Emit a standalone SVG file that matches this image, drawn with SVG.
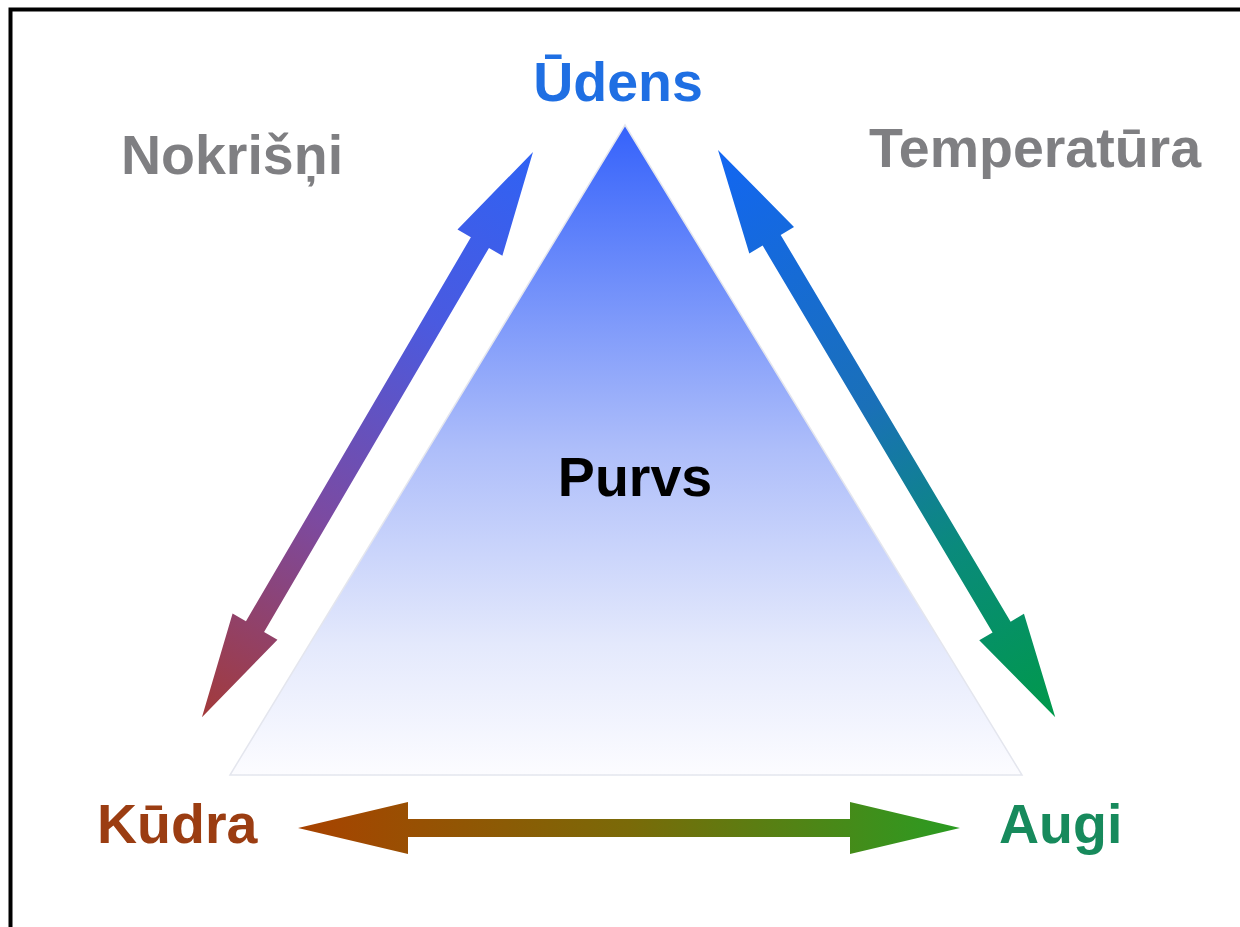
<svg xmlns="http://www.w3.org/2000/svg" width="1240" height="927" viewBox="0 0 1240 927">
  <style>
    text { font-family: "Liberation Sans", Arial, sans-serif; font-weight: bold; font-size: 55.5px; }
    .gray { fill: #7f7f82; }
  </style>
  <defs>
    <linearGradient id="triGrad" x1="0" y1="125" x2="0" y2="775" gradientUnits="userSpaceOnUse">
      <stop offset="0" stop-color="#3562fb"/>
      <stop offset="0.5" stop-color="#aebefa"/>
      <stop offset="0.8" stop-color="#e4e9fc"/>
      <stop offset="1" stop-color="#fcfcff"/>
    </linearGradient>
    <linearGradient id="gradLeft" x1="0" y1="0" x2="655" y2="0" gradientUnits="userSpaceOnUse">
      <stop offset="0" stop-color="#2f62f4"/>
      <stop offset="0.3" stop-color="#4a5ae0"/>
      <stop offset="0.65" stop-color="#7c4aa0"/>
      <stop offset="1" stop-color="#a33a3a"/>
    </linearGradient>
    <linearGradient id="gradRight" x1="0" y1="0" x2="660" y2="0" gradientUnits="userSpaceOnUse">
      <stop offset="0" stop-color="#1266f2"/>
      <stop offset="0.45" stop-color="#1a70b8"/>
      <stop offset="0.7" stop-color="#0a8a7c"/>
      <stop offset="1" stop-color="#00994a"/>
    </linearGradient>
    <linearGradient id="gradBottom" x1="0" y1="0" x2="662" y2="0" gradientUnits="userSpaceOnUse">
      <stop offset="0" stop-color="#a84200"/>
      <stop offset="0.5" stop-color="#7a6a08"/>
      <stop offset="1" stop-color="#2a9c22"/>
    </linearGradient>
  </defs>

  <rect x="10.5" y="9.5" width="1300" height="1000" fill="#ffffff" stroke="#000000" stroke-width="4"/>

  <g id="purvs">
    <polygon points="625,125 1022,775 230,775" fill="url(#triGrad)" stroke="#e4e6ee" stroke-width="1.5"/>
    <text x="635" y="496" text-anchor="middle" fill="#000000">Purvs</text>
  </g>

  <g id="connectors">
    <path transform="translate(533,152) rotate(120.36)" fill="url(#gradLeft)"
          d="M0,0 L105,-26 L105,-10.5 L550,-10.5 L550,-26 L655,0 L550,26 L550,10.5 L105,10.5 L105,26 Z"/>
    <path transform="translate(718,150) rotate(59.27)" fill="url(#gradRight)"
          d="M0,0 L105,-26 L105,-10.5 L555,-10.5 L555,-26 L660,0 L555,26 L555,10.5 L105,10.5 L105,26 Z"/>
    <path transform="translate(298,828)" fill="url(#gradBottom)"
          d="M0,0 L110,-26 L110,-9 L552,-9 L552,-26 L662,0 L552,26 L552,9 L110,9 L110,26 Z"/>
  </g>

  <g id="udens">
    <text x="618" y="101" text-anchor="middle" fill="#1f6fe3">Ūdens</text>
  </g>
  <g id="nokrisni">
    <text x="121" y="174" class="gray">Nokrišņi</text>
  </g>
  <g id="temperatura">
    <text x="869" y="167" class="gray">Temperatūra</text>
  </g>
  <g id="kudra">
    <text x="97" y="843" fill="#9b3d12">Kūdra</text>
  </g>
  <g id="augi">
    <text x="999" y="843" fill="#178a5c">Augi</text>
  </g>
</svg>
